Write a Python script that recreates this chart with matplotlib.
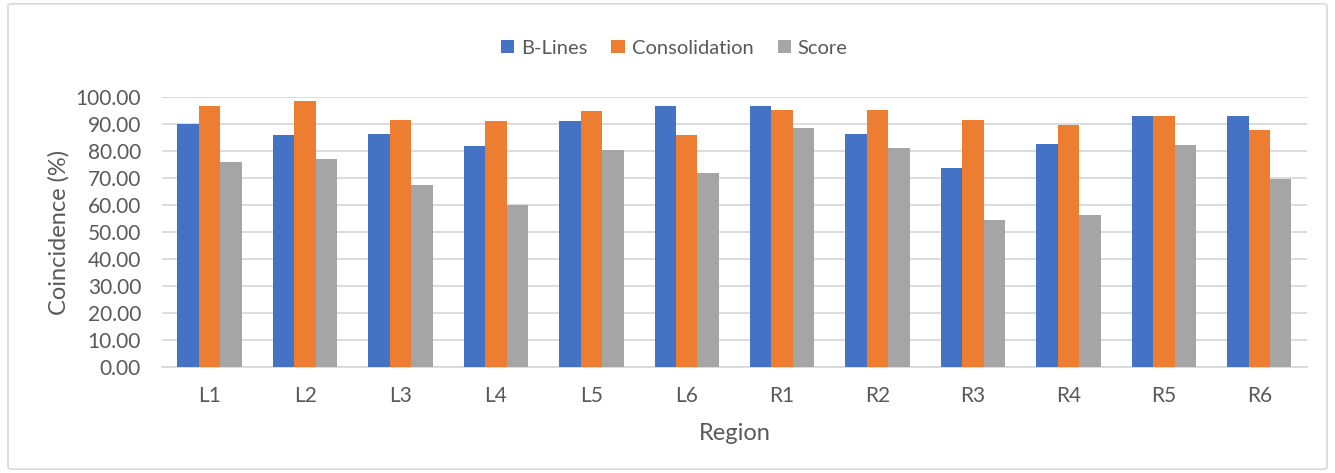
import numpy as np
import matplotlib.pyplot as plt
from matplotlib.patches import FancyBboxPatch

# 数据
regions = ['L1', 'L2', 'L3', 'L4', 'L5', 'L6', 'R1', 'R2', 'R3', 'R4', 'R5', 'R6']
b_lines = [89.9, 85.8, 86.3, 82.0, 91.2, 96.7, 96.8, 86.3, 73.7, 82.5, 93.0, 93.0]
consolidation = [96.7, 98.4, 91.5, 91.1, 94.8, 86.0, 95.2, 95.1, 91.5, 89.6, 93.0, 87.7]
score = [75.9, 76.9, 67.4, 60.1, 80.5, 72.0, 88.4, 81.1, 54.4, 56.3, 82.2, 69.7]

series_names = ['B-Lines', 'Consolidation', 'Score']
colors = ['#4472C4', '#ED7D31', '#A5A5A5']

plt.rcParams['font.family'] = ['Lato', 'DejaVu Sans']
text_color = '#595959'

fig = plt.figure(figsize=(13.35, 4.73), dpi=100)
ax = fig.add_axes([0.1213, 0.2241, 0.8577, 0.5708])

# 外框
border = FancyBboxPatch((0.006, 0.008), 0.988, 0.984, boxstyle='round,pad=0,rounding_size=0.004',
                        transform=fig.transFigure, facecolor='none', edgecolor='#d9d9d9',
                        linewidth=1.2)
fig.patches.append(border)

x = np.arange(len(regions))
w = 0.225
for i, (vals, name) in enumerate(zip([b_lines, consolidation, score], series_names)):
    ax.bar(x + (i - 1) * w, vals, width=w, color=colors[i], label=name, zorder=3)

ax.set_xlim(-0.5, len(regions) - 0.5)
ax.set_ylim(0, 100)
ax.set_yticks(np.arange(0, 101, 10))
ax.set_yticklabels([f'{v:.2f}' for v in np.arange(0, 101, 10)])
ax.set_xticks(x)
ax.set_xticklabels(regions)

ax.grid(axis='y', color='#d9d9d9', linewidth=1.3, zorder=0)
for s in ['top', 'right', 'left']:
    ax.spines[s].set_visible(False)
ax.spines['bottom'].set_color('#d9d9d9')
ax.spines['bottom'].set_linewidth(1.3)
ax.tick_params(axis='both', length=0, labelsize=15, colors=text_color)
ax.tick_params(axis='x', pad=14)
ax.tick_params(axis='y', pad=15)

ax.set_xlabel('Region', fontsize=17, color=text_color, labelpad=12)
ax.set_ylabel('Coincidence (%)', fontsize=17, color=text_color, labelpad=4)

fig.legend(loc='center', bbox_to_anchor=(0.505, 0.898), ncol=3, frameon=False,
           fontsize=14.5, handlelength=0.65, handleheight=0.65, handletextpad=0.35,
           columnspacing=1.2, labelcolor=text_color)

plt.savefig('out.png', dpi=100)
plt.close()
